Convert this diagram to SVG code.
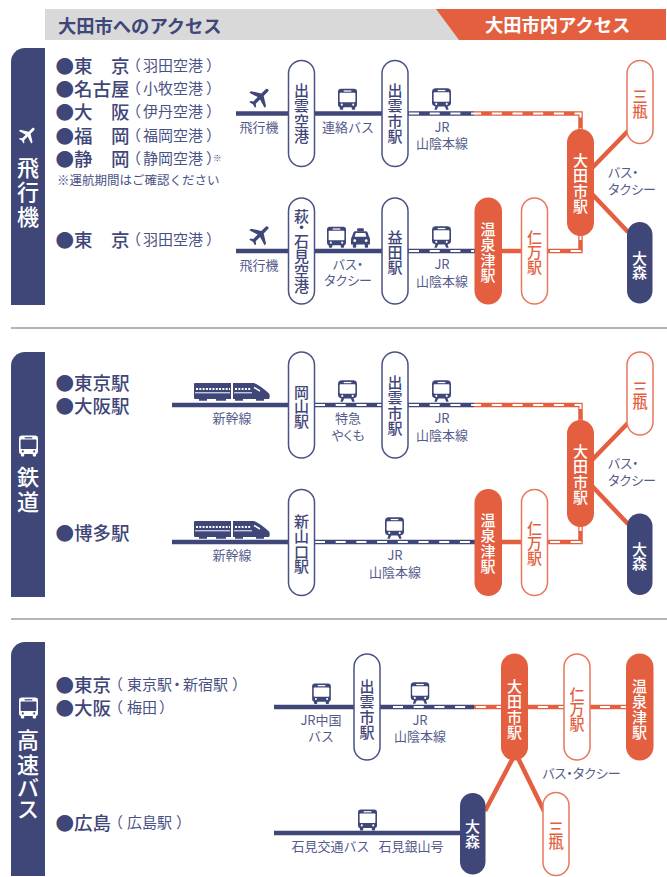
<svg xmlns="http://www.w3.org/2000/svg" width="667" height="877" viewBox="0 0 667 877">
<style>
text{font-family:"Noto Sans CJK JP","Noto Sans",sans-serif}
.pn{fill:#fff;stroke:#4a5285;stroke-width:1.5}
.po{fill:#fff;stroke:#e8775c;stroke-width:1.5}
.fo{fill:#e45f40}
.fn{fill:#3f4678}
.st{font-size:15px;font-weight:500;text-anchor:middle}
.tn{fill:#3f4678}
.to{fill:#e45f40}
.tw{fill:#fff}
.h{font-size:18.300px;font-weight:700}
.o{font-size:18.500px;font-weight:500;fill:#3f4678}
.p{font-size:15px;fill:#4a5285}
.l{font-size:13px;fill:#555c8c;text-anchor:middle}
.ls{font-size:13px;fill:#555c8c}
.palt{font-feature-settings:"palt" 1}
.side{font-size:22px;font-weight:500;fill:#fff;text-anchor:middle}
.ln{fill:none;stroke:#3f4678;stroke-width:4.500}
.lo{fill:none;stroke:#e45f40;stroke-width:4.500}
.dw{fill:none;stroke:#fff;stroke-width:2;stroke-dasharray:10 10.700}
.div{stroke:#6e6a66;stroke-width:1.200}
</style>
<defs>
<symbol id="plane" viewBox="0 0 24 24" overflow="visible"><path transform="rotate(45 12 12)" d="M21 16v-2l-8-5V3.500c0-.83-.67-1.500-1.500-1.500S10 2.670 10 3.500V9l-8 5v2l8-2.500V19l-2 1.500V22l3.500-1 3.500 1v-1.500L13 19v-5.500l8 2.500z"/></symbol>
<symbol id="bus" viewBox="0 0 20 23">
<rect x="0" y="0.500" width="20" height="19.500" rx="3" style="fill:currentColor"/>
<rect x="1.700" y="4.700" width="16.600" height="10" rx=".8"/>
<rect x="6" y="2.200" width="8" height="1.300"/>
<circle cx="4" cy="17.200" r="1.100"/><circle cx="16" cy="17.200" r="1.100"/>
<rect x="2" y="19" width="3.500" height="3.500" rx="1" style="fill:currentColor"/><rect x="14.500" y="19" width="3.500" height="3.500" rx="1" style="fill:currentColor"/>
</symbol>
<symbol id="train" viewBox="0 0 20 23">
<rect x="0" y="0" width="20" height="19" rx="4" style="fill:currentColor"/>
<rect x="1.700" y="4.200" width="16.600" height="9.800" rx=".8"/>
<rect x="6" y="1.700" width="8" height="1.300"/>
<circle cx="4.500" cy="16.400" r="1.100"/><circle cx="15.500" cy="16.400" r="1.100"/>
<path d="M4 18h3l-2 4.500H2.500zM16 18h-3l2 4.500h2.500z" style="fill:currentColor"/>
</symbol>
<symbol id="taxi" viewBox="0 0 20 21">
<rect x="6.500" y="0" width="7" height="3.500" rx=".8" style="fill:currentColor"/>
<path d="M4.500 3h11q1.500 0 2 1.500L19 9q1 .8 1 2.500V17H0v-5.500Q0 9.800 1 9l1.500-4.500Q3 3 4.500 3z" style="fill:currentColor"/>
<path d="M5 5h10l1.200 4H3.800z"/>
<circle cx="4" cy="13" r="1.500"/><circle cx="16" cy="13" r="1.500"/>
<rect x="2" y="16" width="3.500" height="4.500" rx="1" style="fill:currentColor"/><rect x="14.500" y="16" width="3.500" height="4.500" rx="1" style="fill:currentColor"/>
</symbol>
<symbol id="shinkansen" viewBox="0 0 76 18">
<path d="M1 0H37V16H1Q0 16 0 15V1Q0 0 1 0zM39 0H60Q67 3 75 10.500Q76.500 13 75 16H39z" class="fn"/>
<path d="M1 9.800H36M40 9.800H58" stroke="#fff" stroke-width="1" fill="none"/>
<path d="M2 6H36M41 6H57" stroke="#fff" stroke-width="2.200" stroke-dasharray="2 1.300" fill="none"/>
<path d="M60 4.500L66 8" stroke="#fff" stroke-width="1.500" fill="none"/>
<path d="M5 16.500H13M22 16.500H32M41 16.500H49M62 16.500H70" stroke="#3f4678" stroke-width="2.500" fill="none"/>
</symbol>
</defs>

<g id="header">
<rect x="45" y="9" width="420" height="31" fill="#d9d9d9"/>
<polygon points="436,9 666,9 666,40 459,40" class="fo"/>
<text class="h tn" x="58" y="33">大田市へのアクセス</text>
<text class="h tw" x="485" y="32">大田市内アクセス</text>
</g>

<g id="dividers">
<line class="div" x1="11" y1="328" x2="667" y2="328"/>
<line class="div" x1="11" y1="619" x2="667" y2="619"/>
</g>

<g id="tab-air">
<path class="fn" d="M45 48V305H11V62A14 14 0 0 1 25 48z"/>
<use href="#plane" x="17" y="124" width="22" height="22" fill="#fff"/>
<text class="side" x="28 28 28" y="176 200 225">飛行機</text>
</g>
<g id="tab-rail">
<path class="fn" d="M45 352V597H11V366A14 14 0 0 1 25 352z"/>
<use href="#bus" x="19" y="435" width="19" height="22" color="#fff" fill="#3f4678"/>
<text class="side" x="28 28" y="485 510">鉄道</text>
</g>
<g id="tab-bus">
<path class="fn" d="M45 642V876H11V656A14 14 0 0 1 25 642z"/>
<use href="#bus" x="19" y="697" width="19" height="22" color="#fff" fill="#3f4678"/>
<text class="side" x="28 28 28 28" y="748 773 796 817">高速バス</text>
</g>

<g id="origins">
<text class="o" x="55.500" y="73">●東　京</text><text class="p" x="126 143 158 173 188 206" y="71">（羽田空港）</text>
<text class="o" x="55.500" y="96">●名古屋</text><text class="p" x="126 143 158 173 188 206" y="94">（小牧空港）</text>
<text class="o" x="55.500" y="119">●大　阪</text><text class="p" x="126 143 158 173 188 206" y="117">（伊丹空港）</text>
<text class="o" x="55.500" y="142.500">●福　岡</text><text class="p" x="126 143 158 173 188 206" y="140.500">（福岡空港）</text>
<text class="o" x="55.500" y="165.500">●静　岡</text><text class="p" x="126 143 158 173 188 206" y="163.500">（静岡空港）<tspan x="213" y="161" font-size="8.500">※</tspan></text>
<text x="57" y="185" font-size="12.500" fill="#4a5285">※運航期間はご確認ください</text>
<text class="o" x="55.500" y="247">●東　京</text><text class="p" x="126 143 158 173 188 206" y="245">（羽田空港）</text>
<text class="o" x="55.500" y="390">●東京駅</text>
<text class="o" x="55.500" y="413">●大阪駅</text>
<text class="o" x="55.500" y="540">●博多駅</text>
<text class="o" x="55.500" y="692">●東京</text><text class="p" x="108 127 142 157 169.500 183 198 213 232" y="690">（東京駅・新宿駅）</text>
<text class="o" x="55.500" y="715">●大阪</text><text class="p" x="108 127 142 159" y="713">（梅田）</text>
<text class="o" x="55.500" y="830">●広島</text><text class="p" x="108 127 142 157 176" y="828">（広島駅）</text>
</g>

<g id="connectors">
<path class="ln" d="M236 113.500H382"/>
<path class="ln" d="M408 113.500H474"/>
<path class="lo" d="M474 113.500H580.500V135"/>
<path class="dw" d="M409 113.500H580.500V129"/>
<path class="lo" d="M592 168L628 131"/>
<path class="lo" d="M592 194L628 232"/>
<path class="ln" d="M236 251H382"/>
<path class="ln" d="M408 251H476"/>
<path class="dw" d="M409 251H474"/>
<path class="lo" d="M500 251H580.500V230"/>
<path class="dw" d="M550 251H580.500V236"/>
<path class="ln" d="M172 405H382"/>
<path class="dw" d="M315 405H382"/>
<path class="ln" d="M408 405H474"/>
<path class="lo" d="M474 405H580.500V427"/>
<path class="dw" d="M409 405H580.500V421"/>
<path class="lo" d="M592 460L628 423"/>
<path class="lo" d="M592 486L628 524"/>
<path class="ln" d="M172 542H476"/>
<path class="dw" d="M315 542H474"/>
<path class="lo" d="M500 542H580.500V521"/>
<path class="dw" d="M550 542H580.500V527"/>
<path class="ln" d="M274 707H356"/>
<path class="ln" d="M378 707H474"/>
<path class="lo" d="M474 707H628"/>
<path class="dw" d="M393 707H626"/>
<path class="lo" d="M513 758L485 811"/>
<path class="lo" d="M518 758L544 811"/>
<path class="ln" d="M274 833H460"/>
</g>

<g id="icons" color="#3f4678" fill="#fff">
<use href="#plane" x="247" y="84" width="27" height="27" fill="#3f4678"/>
<use href="#plane" x="247" y="221.500" width="27" height="27" fill="#3f4678"/>
<use href="#bus" x="338" y="88" width="19" height="22.500"/>
<use href="#train" x="432" y="88" width="19" height="22.500"/>
<use href="#bus" x="327" y="226" width="19" height="22.500"/>
<use href="#taxi" x="351" y="228" width="19" height="20.500"/>
<use href="#train" x="432" y="226" width="19" height="22.500"/>
<use href="#shinkansen" x="194" y="383" width="76" height="18"/>
<use href="#shinkansen" x="194" y="521" width="76" height="18"/>
<use href="#train" x="338" y="380" width="19" height="22.500"/>
<use href="#train" x="432" y="380" width="19" height="22.500"/>
<use href="#train" x="385" y="517" width="19" height="22.500"/>
<use href="#bus" x="312" y="683" width="19" height="21.500"/>
<use href="#train" x="410.500" y="682" width="19" height="22.500"/>
<use href="#bus" x="358" y="809" width="19" height="22"/>
</g>

<g id="node-izumo-airport"><rect class="pn" x="288.500" y="60.500" width="26" height="106" rx="13"/><text class="st tn" x="301.500 301.500 301.500 301.500" y="96 111 127 142">出雲空港</text></g>
<g id="node-izumoshi-1"><rect class="pn" x="382" y="60.500" width="26" height="106" rx="13"/><text class="st tn" x="395 395 395 395" y="96 111 127 142">出雲市駅</text></g>
<g id="node-odashi-1"><rect class="fo" x="567" y="129" width="27" height="107" rx="13.500"/><text class="st tw" x="580.500 580.500 580.500 580.500" y="166 181 197 212">大田市駅</text></g>
<g id="node-sanbe-1"><rect class="po" x="627" y="60.500" width="26" height="83" rx="13"/><text class="st to" x="640 640" y="102 117">三瓶</text></g>
<g id="node-omori-1"><rect class="fn" x="627" y="222" width="25.500" height="81.500" rx="12.750"/><text class="st tw" x="639.500 639.500" y="264 278">大森</text></g>
<g id="node-hagi-iwami"><rect class="pn" x="288.500" y="198" width="26" height="106" rx="13"/><text class="st tn" x="301.500 301.500 301.500 301.500 301.500 301.500" y="222 233 247 262 277 292">萩・石見空港</text></g>
<g id="node-masuda"><rect class="pn" x="382" y="198" width="26" height="106" rx="13"/><text class="st tn" x="395 395 395" y="243 258 273">益田駅</text></g>
<g id="node-yunotsu-1"><rect class="fo" x="474.500" y="197.500" width="27.500" height="107" rx="13.750"/><text class="st tw" x="488 488 488 488" y="235 250 266 281">温泉津駅</text></g>
<g id="node-nima-1"><rect class="po" x="521.500" y="198" width="26" height="106" rx="13"/><text class="st to" x="534.500 534.500 534.500" y="243 258 273">仁万駅</text></g>

<g id="node-okayama"><rect class="pn" x="288.500" y="352" width="26" height="106" rx="13"/><text class="st tn" x="301.500 301.500 301.500" y="398 412 427">岡山駅</text></g>
<g id="node-izumoshi-2"><rect class="pn" x="382" y="352" width="26" height="106" rx="13"/><text class="st tn" x="395 395 395 395" y="388 403 419 434">出雲市駅</text></g>
<g id="node-odashi-2"><rect class="fo" x="567" y="420" width="27" height="107" rx="13.500"/><text class="st tw" x="580.500 580.500 580.500 580.500" y="457 472 488 503">大田市駅</text></g>
<g id="node-sanbe-2"><rect class="po" x="627" y="352" width="26" height="83" rx="13"/><text class="st to" x="640 640" y="394 408">三瓶</text></g>
<g id="node-omori-2"><rect class="fn" x="627" y="513.500" width="25.500" height="81.500" rx="12.750"/><text class="st tw" x="639.500 639.500" y="555 569">大森</text></g>
<g id="node-shinyamaguchi"><rect class="pn" x="288.500" y="489.500" width="26" height="106" rx="13"/><text class="st tn" x="301.500 301.500 301.500 301.500" y="527 542 558 572">新山口駅</text></g>
<g id="node-yunotsu-2"><rect class="fo" x="474.500" y="489" width="27.500" height="107" rx="13.750"/><text class="st tw" x="488 488 488 488" y="526 541 557 572">温泉津駅</text></g>
<g id="node-nima-2"><rect class="po" x="521.500" y="489.500" width="26" height="106" rx="13"/><text class="st to" x="534.500 534.500 534.500" y="534 549 564">仁万駅</text></g>

<g id="node-izumoshi-3"><rect class="pn" x="354" y="654" width="26" height="106" rx="13"/><text class="st tn" x="367 367 367 367" y="692 707 723 738">出雲市駅</text></g>
<g id="node-odashi-3"><rect class="fo" x="501" y="653.500" width="27" height="107" rx="13.500"/><text class="st tw" x="514.500 514.500 514.500 514.500" y="692 707 723 738">大田市駅</text></g>
<g id="node-nima-3"><rect class="po" x="564" y="654" width="26" height="106" rx="13"/><text class="st to" x="577 577 577" y="700 715 730">仁万駅</text></g>
<g id="node-yunotsu-3"><rect class="fo" x="626" y="653.500" width="27.500" height="107" rx="13.750"/><text class="st tw" x="639.500 639.500 639.500 639.500" y="692 707 723 738">温泉津駅</text></g>
<g id="node-omori-3"><rect class="fn" x="460" y="793" width="25.500" height="81.500" rx="12.750"/><text class="st tw" x="472.500 472.500" y="832 847">大森</text></g>
<g id="node-sanbe-3"><rect class="po" x="543" y="792.500" width="26" height="83" rx="13"/><text class="st to" x="556 556" y="834 848">三瓶</text></g>

<g id="labels">
<text class="l" x="259" y="132">飛行機</text>
<text class="l" x="348" y="132">連絡バス</text>
<text class="l" x="442" y="132">JR<tspan x="442" y="148">山陰本線</tspan></text>
<text class="ls palt" x="608" y="177">バス・<tspan x="608" y="194">タクシー</tspan></text>
<text class="l" x="259" y="269.500">飛行機</text>
<text class="l palt" x="348" y="269">バス・<tspan x="348" y="285">タクシー</tspan></text>
<text class="l" x="442" y="269">JR<tspan x="442" y="286">山陰本線</tspan></text>
<text class="l" x="232" y="423">新幹線</text>
<text class="l palt" x="348" y="423">特急<tspan x="348" y="440">やくも</tspan></text>
<text class="l" x="442" y="423">JR<tspan x="442" y="440">山陰本線</tspan></text>
<text class="ls palt" x="608" y="468">バス・<tspan x="608" y="485">タクシー</tspan></text>
<text class="l" x="232" y="560">新幹線</text>
<text class="l" x="395" y="560">JR<tspan x="395" y="577">山陰本線</tspan></text>
<text class="l" x="321" y="725">JR中国<tspan x="321" y="741">バス</tspan></text>
<text class="l" x="420" y="725">JR<tspan x="420" y="741">山陰本線</tspan></text>
<text class="l palt" x="581.500" y="778">バス・タクシー</text>
<text class="l" x="367.500" y="851" word-spacing="6">石見交通バス 石見銀山号</text>
</g>
</svg>
